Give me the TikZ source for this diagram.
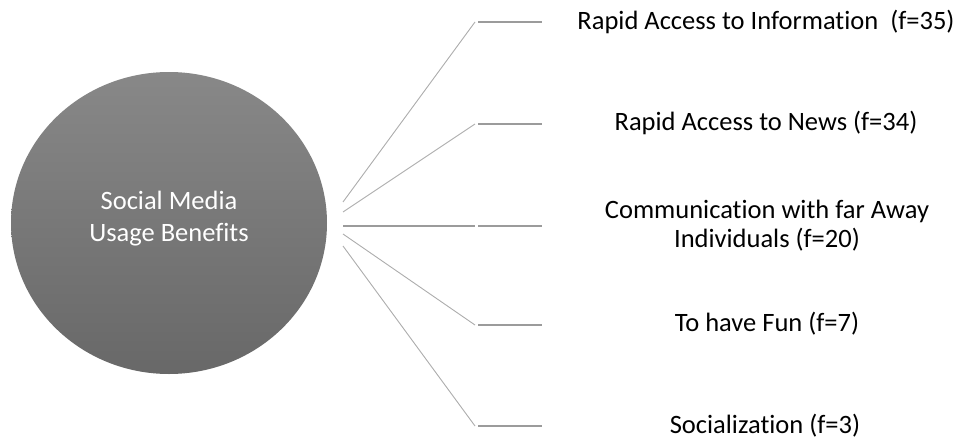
\documentclass[tikz,border=0pt]{standalone}
\usepackage{fontspec}
\setmainfont[Ligatures=NoCommon]{Carlito}
\usepackage{tikz}
\usetikzlibrary{shapes.geometric}
\definecolor{hubtop}{RGB}{136,136,136}
\definecolor{hubbottom}{RGB}{104,104,104}
\definecolor{spokegray}{RGB}{172,172,172}
\definecolor{stubgray}{RGB}{155,155,155}

\begin{document}
\begin{tikzpicture}[x=1pt,y=-1pt]
                \tikzstyle{hub}=[ellipse,minimum width=316pt,minimum height=302pt,inner sep=0pt,top color=hubtop,bottom color=hubbottom]
                \tikzstyle{hubtext}=[text=white,align=center,inner sep=0pt,font=\fontsize{26.5}{32}\selectfont]
                \tikzstyle{benefit}=[align=center,inner sep=0pt,font=\fontsize{26.5}{29}\selectfont]
                \tikzstyle{spoke}=[draw=spokegray,line width=0.9pt]
                \tikzstyle{stub}=[draw=stubgray,line width=2pt]
                \useasboundingbox (0,0) rectangle (959,439);

                \node[hub] (hub) at (169,223) {};
                \node[hubtext] (hub-text) at (169,219) {Social Media\\Usage Benefits};

                \foreach \num/\sy/\y in {1/202/22, 2/212/124, 3/226/226, 4/234/325, 5/246/426}
                {
                        \coordinate (S-\num) at (343,\sy);
                        \coordinate (E-\num) at (475,\y);
                        \coordinate (T-\num) at (478,\y);
                        \coordinate (U-\num) at (542,\y);
                }

                    \foreach \num in {1, 2, 4, 5}
                        \draw[spoke] (S-\num) -- (E-\num);
                    \draw[stub] (S-3) -- (E-3);
                    \foreach \num in {1,...,5}
                        \draw[stub] (T-\num) -- (U-\num);

                \node[benefit] (B-1) at (766,22) {Rapid Access to Information\ \ (f=35)};
                \node[benefit] (B-2) at (766,123) {Rapid Access to News (f=34)};
                \node[benefit] (B-3) at (767,226) {Communication with far Away\\Individuals (f=20)};
                \node[benefit] (B-4) at (767,324) {To have Fun (f=7)};
                \node[benefit] (B-5) at (765,426) {Socialization (f=3)};
            \end{tikzpicture}
\end{document}
